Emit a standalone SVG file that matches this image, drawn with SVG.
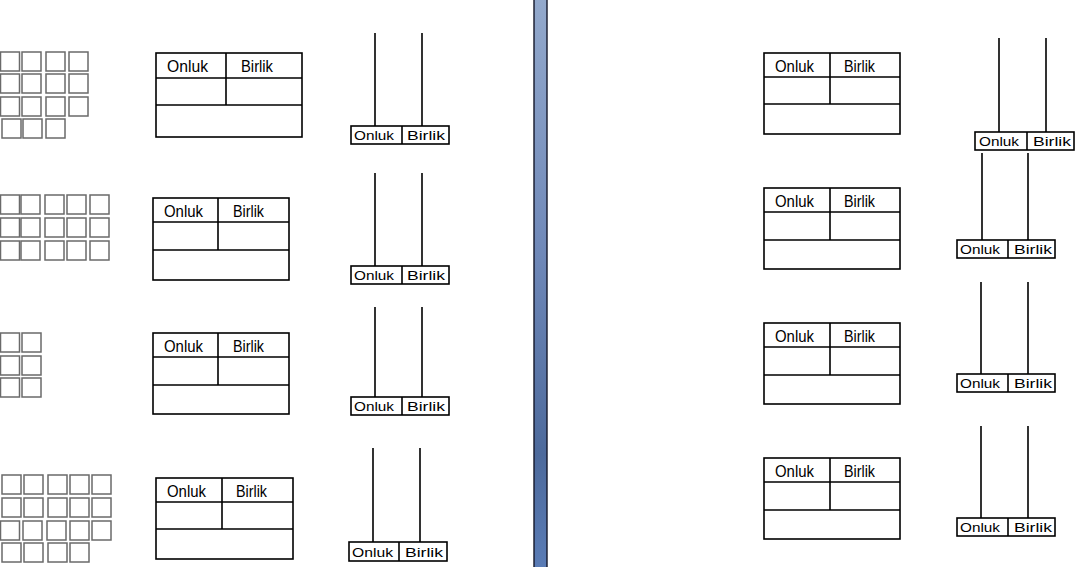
<svg xmlns="http://www.w3.org/2000/svg" width="1080" height="567" viewBox="0 0 1080 567">
<style>
.sq{fill:#fff;stroke:#6a6a6a;stroke-width:1.5}
.ln{fill:none;stroke:#000;stroke-width:1.6}
.bx{fill:#fff;stroke:#000;stroke-width:1.6}
.th{font-family:"Liberation Sans",Arial,sans-serif;font-size:16px;fill:#000}
.ab{font-family:"Liberation Sans",Arial,sans-serif;font-size:13px;fill:#000}
</style>
<defs>
<linearGradient id="bar" x1="0" y1="0" x2="0" y2="1">
<stop offset="0" stop-color="#93a9cc"/>
<stop offset="0.45" stop-color="#6f88b8"/>
<stop offset="0.8" stop-color="#4d6a9c"/>
<stop offset="1" stop-color="#5a7cb6"/>
</linearGradient>
<rect id="s" width="19" height="19" class="sq"/>
</defs>
<rect width="1080" height="567" fill="#fff"/>
<g id="divider">
<rect x="534" y="-1" width="13" height="569" fill="url(#bar)" stroke="#15182a" stroke-width="1.4"/>
</g>
<g id="squares-1">
<use href="#s" x="0.5" y="52"/><use href="#s" x="22" y="52"/><use href="#s" x="46" y="52"/><use href="#s" x="69" y="52"/>
<use href="#s" x="0.5" y="74"/><use href="#s" x="22" y="74"/><use href="#s" x="46" y="74"/><use href="#s" x="69" y="74"/>
<use href="#s" x="0.5" y="97"/><use href="#s" x="22" y="97"/><use href="#s" x="46" y="97"/><use href="#s" x="69" y="97"/>
<use href="#s" x="2" y="119"/><use href="#s" x="23" y="119"/><use href="#s" x="46" y="119"/>
</g>
<g id="squares-2">
<use href="#s" x="0.5" y="195"/><use href="#s" x="21" y="195"/><use href="#s" x="45" y="195"/><use href="#s" x="67" y="195"/><use href="#s" x="90" y="195"/>
<use href="#s" x="0.5" y="218"/><use href="#s" x="21" y="218"/><use href="#s" x="45" y="218"/><use href="#s" x="67" y="218"/><use href="#s" x="90" y="218"/>
<use href="#s" x="0.5" y="241"/><use href="#s" x="21" y="241"/><use href="#s" x="45" y="241"/><use href="#s" x="67" y="241"/><use href="#s" x="90" y="241"/>
</g>
<g id="squares-3">
<use href="#s" x="0.5" y="333"/><use href="#s" x="22" y="333"/>
<use href="#s" x="0.5" y="356"/><use href="#s" x="22" y="356"/>
<use href="#s" x="0.5" y="378"/><use href="#s" x="22" y="378"/>
</g>
<g id="squares-4">
<use href="#s" x="2" y="475"/><use href="#s" x="24" y="475"/><use href="#s" x="48" y="475"/><use href="#s" x="70" y="475"/><use href="#s" x="92" y="475"/>
<use href="#s" x="2" y="498"/><use href="#s" x="24" y="498"/><use href="#s" x="48" y="498"/><use href="#s" x="70" y="498"/><use href="#s" x="92" y="498"/>
<use href="#s" x="0.5" y="521"/><use href="#s" x="23" y="521"/><use href="#s" x="47" y="521"/><use href="#s" x="70" y="521"/><use href="#s" x="92" y="521"/>
<use href="#s" x="2" y="543"/><use href="#s" x="24" y="543"/><use href="#s" x="48" y="543"/><use href="#s" x="70" y="543"/>
</g>
<g id="table-L1">
<rect x="156" y="53" width="146" height="84" class="bx"/>
<path d="M156 78H302M156 105H302M226 53V105" class="ln"/>
<text x="167" y="72" class="th" textLength="41" lengthAdjust="spacingAndGlyphs">Onluk</text>
<text x="241" y="72" class="th" textLength="32" lengthAdjust="spacingAndGlyphs">Birlik</text>
</g>
<g id="table-L2">
<rect x="153" y="198" width="136" height="82" class="bx"/>
<path d="M153 222H289M153 250H289M218 198V250" class="ln"/>
<text x="164" y="217" class="th" textLength="39" lengthAdjust="spacingAndGlyphs">Onluk</text>
<text x="233" y="217" class="th" textLength="31" lengthAdjust="spacingAndGlyphs">Birlik</text>
</g>
<g id="table-L3">
<rect x="153" y="333" width="136" height="81" class="bx"/>
<path d="M153 357H289M153 385H289M218 333V385" class="ln"/>
<text x="164" y="352" class="th" textLength="39" lengthAdjust="spacingAndGlyphs">Onluk</text>
<text x="233" y="352" class="th" textLength="31" lengthAdjust="spacingAndGlyphs">Birlik</text>
</g>
<g id="table-L4">
<rect x="156" y="478" width="137" height="81" class="bx"/>
<path d="M156 502H293M156 529H293M222 478V529" class="ln"/>
<text x="167" y="497" class="th" textLength="39" lengthAdjust="spacingAndGlyphs">Onluk</text>
<text x="236" y="497" class="th" textLength="31" lengthAdjust="spacingAndGlyphs">Birlik</text>
</g>
<g id="table-R1">
<rect x="764" y="53" width="136" height="81" class="bx"/>
<path d="M764 77H900M764 104H900M830 53V104" class="ln"/>
<text x="775" y="72" class="th" textLength="39" lengthAdjust="spacingAndGlyphs">Onluk</text>
<text x="844" y="72" class="th" textLength="31" lengthAdjust="spacingAndGlyphs">Birlik</text>
</g>
<g id="table-R2">
<rect x="764" y="188" width="136" height="81" class="bx"/>
<path d="M764 212H900M764 240H900M830 188V240" class="ln"/>
<text x="775" y="207" class="th" textLength="39" lengthAdjust="spacingAndGlyphs">Onluk</text>
<text x="844" y="207" class="th" textLength="31" lengthAdjust="spacingAndGlyphs">Birlik</text>
</g>
<g id="table-R3">
<rect x="764" y="323" width="136" height="81" class="bx"/>
<path d="M764 347H900M764 375H900M830 323V375" class="ln"/>
<text x="775" y="342" class="th" textLength="39" lengthAdjust="spacingAndGlyphs">Onluk</text>
<text x="844" y="342" class="th" textLength="31" lengthAdjust="spacingAndGlyphs">Birlik</text>
</g>
<g id="table-R4">
<rect x="764" y="458" width="136" height="81" class="bx"/>
<path d="M764 482H900M764 510H900M830 458V510" class="ln"/>
<text x="775" y="477" class="th" textLength="39" lengthAdjust="spacingAndGlyphs">Onluk</text>
<text x="844" y="477" class="th" textLength="31" lengthAdjust="spacingAndGlyphs">Birlik</text>
</g>
<g id="abacus-L1">
<path d="M375 33V126M422 33V126" class="ln"/>
<rect x="351" y="126" width="98" height="18" class="bx"/>
<path d="M402 126V144" class="ln"/>
<text x="354" y="140" class="ab" textLength="40" lengthAdjust="spacingAndGlyphs">Onluk</text>
<text x="407" y="140" class="ab" textLength="38" lengthAdjust="spacingAndGlyphs">Birlik</text>
</g>
<g id="abacus-L2">
<path d="M375 173V266M422 173V266" class="ln"/>
<rect x="351" y="266" width="98" height="18" class="bx"/>
<path d="M402 266V284" class="ln"/>
<text x="354" y="280" class="ab" textLength="40" lengthAdjust="spacingAndGlyphs">Onluk</text>
<text x="407" y="280" class="ab" textLength="38" lengthAdjust="spacingAndGlyphs">Birlik</text>
</g>
<g id="abacus-L3">
<path d="M375 307V397M422 307V397" class="ln"/>
<rect x="351" y="397" width="98" height="18" class="bx"/>
<path d="M402 397V415" class="ln"/>
<text x="354" y="411" class="ab" textLength="40" lengthAdjust="spacingAndGlyphs">Onluk</text>
<text x="407" y="411" class="ab" textLength="38" lengthAdjust="spacingAndGlyphs">Birlik</text>
</g>
<g id="abacus-L4">
<path d="M373 448V542M420 448V542" class="ln"/>
<rect x="349" y="542" width="98" height="19" class="bx"/>
<path d="M399 542V561" class="ln"/>
<text x="352" y="557" class="ab" textLength="41" lengthAdjust="spacingAndGlyphs">Onluk</text>
<text x="405" y="557" class="ab" textLength="38" lengthAdjust="spacingAndGlyphs">Birlik</text>
</g>
<g id="abacus-R1">
<path d="M999 38V132M1046 38V132" class="ln"/>
<rect x="975" y="132" width="99" height="18" class="bx"/>
<path d="M1027 132V150" class="ln"/>
<text x="979" y="146" class="ab" textLength="40" lengthAdjust="spacingAndGlyphs">Onluk</text>
<text x="1033" y="146" class="ab" textLength="38" lengthAdjust="spacingAndGlyphs">Birlik</text>
</g>
<g id="abacus-R2">
<path d="M982 153V240M1028 153V240" class="ln"/>
<rect x="957" y="240" width="98" height="18" class="bx"/>
<path d="M1008 240V258" class="ln"/>
<text x="960" y="254" class="ab" textLength="40" lengthAdjust="spacingAndGlyphs">Onluk</text>
<text x="1014" y="254" class="ab" textLength="38" lengthAdjust="spacingAndGlyphs">Birlik</text>
</g>
<g id="abacus-R3">
<path d="M981 282V374M1028 282V374" class="ln"/>
<rect x="957" y="374" width="98" height="18" class="bx"/>
<path d="M1008 374V392" class="ln"/>
<text x="960" y="388" class="ab" textLength="40" lengthAdjust="spacingAndGlyphs">Onluk</text>
<text x="1014" y="388" class="ab" textLength="38" lengthAdjust="spacingAndGlyphs">Birlik</text>
</g>
<g id="abacus-R4">
<path d="M981 426V518M1028 426V518" class="ln"/>
<rect x="957" y="518" width="98" height="18" class="bx"/>
<path d="M1008 518V536" class="ln"/>
<text x="960" y="532" class="ab" textLength="40" lengthAdjust="spacingAndGlyphs">Onluk</text>
<text x="1014" y="532" class="ab" textLength="38" lengthAdjust="spacingAndGlyphs">Birlik</text>
</g>
</svg>
